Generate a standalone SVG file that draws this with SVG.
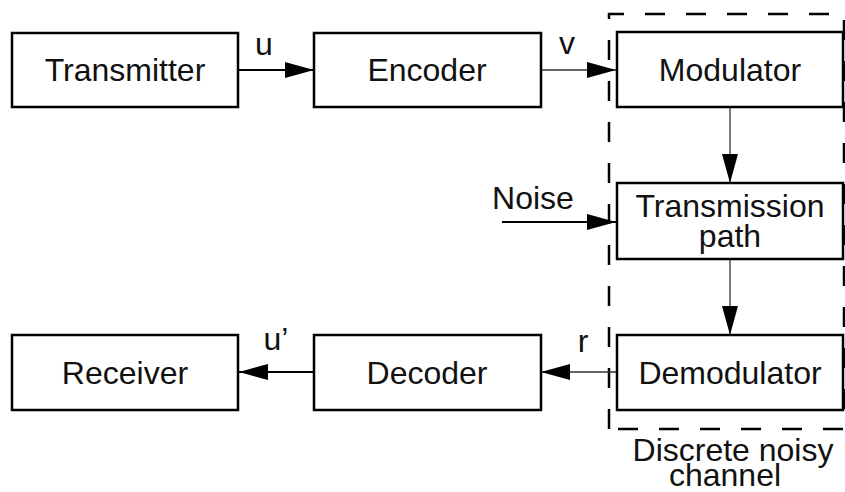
<svg xmlns="http://www.w3.org/2000/svg" width="845" height="492" viewBox="0 0 845 492">
<defs>
<style>
.box{fill:#fff;stroke:#000;stroke-width:2.5}
.t{font-family:"Liberation Sans",Arial,sans-serif;font-size:32px;fill:#111;text-anchor:middle}
.thick{stroke:#000;stroke-width:2;fill:none}
.thin{stroke:#333;stroke-width:1.3;fill:none}
.dash{fill:none;stroke:#000;stroke-width:2.5;stroke-dasharray:20 21}
</style>
<marker id="ah" markerUnits="userSpaceOnUse" markerWidth="30" markerHeight="18" refX="29" refY="8" orient="auto">
<path d="M0,0 L29,8 L0,16 Z" fill="#000"/>
</marker>
</defs>
<rect width="845" height="492" fill="#fff"/>
<g id="channel">
<path class="dash" d="M609,429 L609,14 L844,14 L844,429 Z"/>
<text class="t" x="733" y="461">Discrete noisy</text>
<text class="t" x="725" y="486">channel</text>
</g>
<g id="connectors">
<line class="thick" x1="238" y1="70" x2="314" y2="70" marker-end="url(#ah)"/>
<line class="thin" x1="541" y1="70" x2="616" y2="70" marker-end="url(#ah)"/>
<line class="thin" x1="730" y1="107" x2="730" y2="183" marker-end="url(#ah)"/>
<line class="thick" x1="502" y1="222" x2="616" y2="222" marker-end="url(#ah)"/>
<line class="thin" x1="730" y1="259" x2="730" y2="335" marker-end="url(#ah)"/>
<line class="thin" x1="617" y1="372" x2="541" y2="372" marker-end="url(#ah)"/>
<line class="thick" x1="314" y1="372" x2="239" y2="372" marker-end="url(#ah)"/>
<text class="t" x="264" y="55">u</text>
<text class="t" x="567" y="54">v</text>
<text class="t" x="533" y="209">Noise</text>
<text class="t" x="583" y="352">r</text>
<text class="t" x="276" y="350">u’</text>
</g>
<g id="transmitter"><rect class="box" x="12" y="33" width="226" height="74"/><text class="t" x="125" y="81">Transmitter</text></g>
<g id="encoder"><rect class="box" x="314" y="33" width="227" height="74"/><text class="t" x="427" y="81">Encoder</text></g>
<g id="modulator"><rect class="box" x="617" y="32" width="226" height="75"/><text class="t" x="730" y="81">Modulator</text></g>
<g id="transmission"><rect class="box" x="617" y="183" width="226" height="76"/><text class="t" x="730" y="217">Transmission</text><text class="t" x="730" y="247">path</text></g>
<g id="demodulator"><rect class="box" x="617" y="335" width="226" height="75"/><text class="t" x="730" y="384">Demodulator</text></g>
<g id="decoder"><rect class="box" x="314" y="335" width="227" height="75"/><text class="t" x="427" y="384">Decoder</text></g>
<g id="receiver"><rect class="box" x="12" y="335" width="226" height="75"/><text class="t" x="125" y="384">Receiver</text></g>
</svg>
